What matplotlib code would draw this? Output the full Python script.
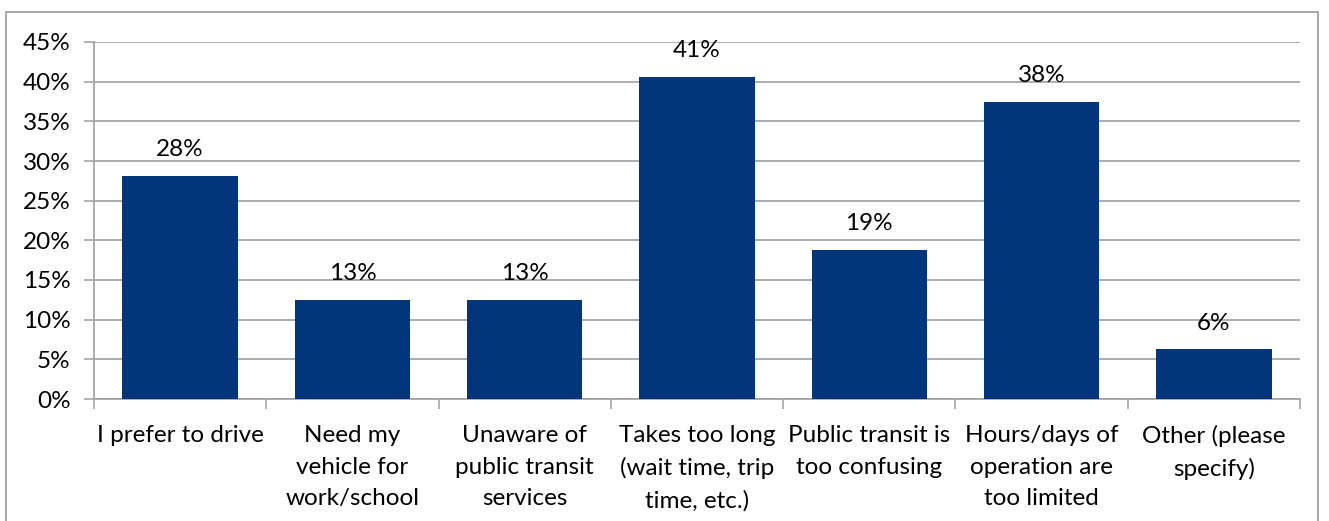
import numpy as np
import matplotlib.pyplot as plt
from matplotlib.patches import Rectangle

categories = [
    'I prefer to drive',
    'Need my\nvehicle for\nwork/school',
    'Unaware of\npublic transit\nservices',
    'Takes too long\n(wait time, trip\ntime, etc.)',
    'Public transit is\ntoo confusing',
    'Hours/days of\noperation are\ntoo limited',
    'Other (please\nspecify)',
]
values = [28.125, 12.5, 12.5, 40.625, 18.75, 37.5, 6.25]
value_labels = ['28%', '13%', '13%', '41%', '19%', '38%', '6%']
yticks = [0, 5, 10, 15, 20, 25, 30, 35, 40, 45]

plt.rcParams['font.family'] = ['Lato', 'DejaVu Sans']
fs = 17.5

fig = plt.figure(figsize=(13.29, 5.21), dpi=100)
ax = fig.add_axes([94 / 1329, 1 - 399 / 521, (1300 - 94) / 1329, (399 - 42) / 521])

# outer chart border
fig.patches.append(Rectangle((6 / 1329, -0.05), (1318 - 6) / 1329, 1.05 - 12 / 521,
                             transform=fig.transFigure, fill=False,
                             edgecolor='#9a9a9a', linewidth=1.2))

x = np.arange(len(categories))
ax.bar(x, values, width=0.67, color='#02357a', zorder=3)
for xi, v, lab in zip(x, values, value_labels):
    ax.text(xi, v + 2.0, lab, ha='center', va='bottom', fontsize=fs, color='black')

ax.set_xlim(-0.5, len(categories) - 0.5)
ax.set_ylim(0, 45)
ax.set_yticks(yticks)
ax.set_yticklabels([f'{t}%' for t in yticks], fontsize=fs)
ax.yaxis.grid(True, color='#a6a6a6', linewidth=1.3, zorder=0)
ax.tick_params(axis='y', length=7, width=1.2, color='#a6a6a6', pad=10)

ax.set_xticks(np.arange(-0.5, len(categories), 1.0))
ax.set_xticklabels([])
ax.set_xticks(x, minor=True)
ax.set_xticklabels(categories, minor=True, fontsize=fs, linespacing=1.6, va='top')
ax.tick_params(axis='x', which='major', length=7, width=1.2, color='#a6a6a6')
ax.tick_params(axis='x', which='minor', length=0, pad=19)

for s in ['top', 'right']:
    ax.spines[s].set_visible(False)
for s in ['left', 'bottom']:
    ax.spines[s].set_color('#a6a6a6')
    ax.spines[s].set_linewidth(1.3)

fig.savefig('out.png', dpi=100)
